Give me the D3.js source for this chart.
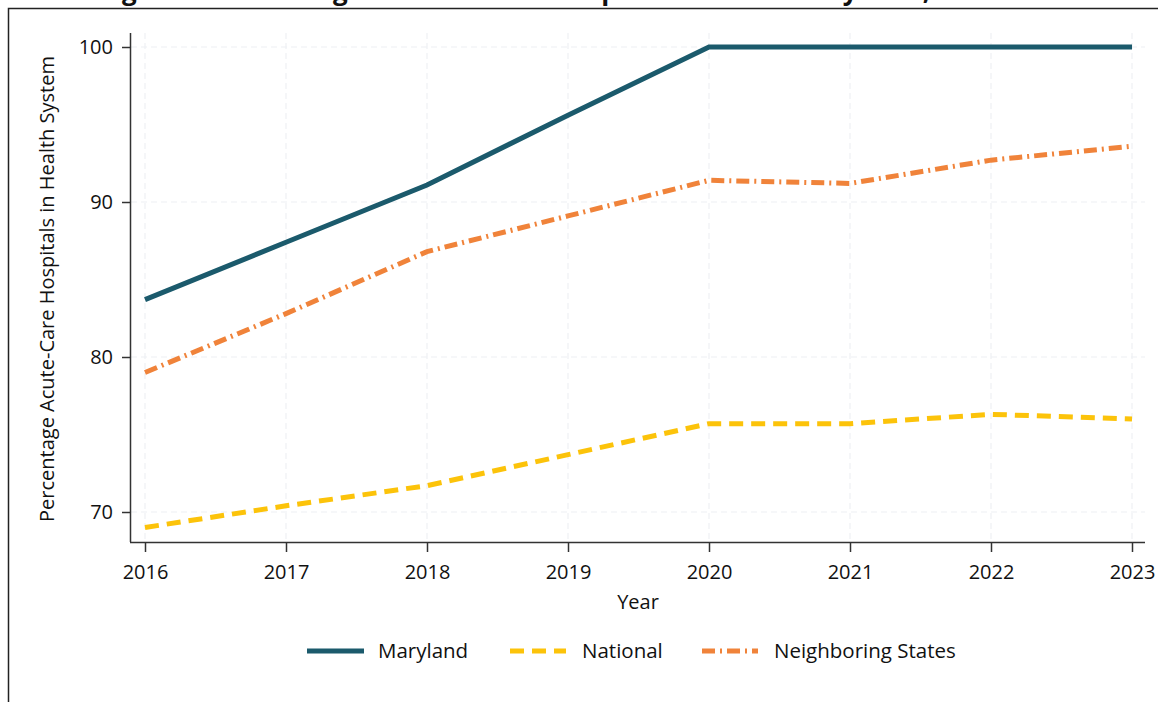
<!DOCTYPE html>
<html>
<head>
<meta charset="utf-8">
<script src="https://d3js.org/d3.v7.min.js"></script>
<style>
  body { margin: 0; background: #fff; }
  svg { display: block; font-family: "Open Sans", sans-serif; }
</style>
</head>
<body>
<svg width="1164" height="702"></svg>
<script>
// data
var years = [2016, 2017, 2018, 2019, 2020, 2021, 2022, 2023];
var maryland = [83.7, 87.4, 91.1, 95.6, 100, 100, 100, 100];
var national = [69.0, 70.4, 71.7, 73.7, 75.7, 75.7, 76.3, 76.0];
var neighboring = [79.0, 82.8, 86.8, 89.1, 91.4, 91.2, 92.7, 93.6];
var yTicks = [70, 80, 90, 100];
var seriesNames = ["Maryland", "National", "Neighboring States"];

var svg = d3.select("svg");

// title, cut off at top of the picture (as in the source)
svg.append("text")
    .attr("x", 582)
    .attr("y", 0)
    .attr("text-anchor", "middle")
    .attr("font-weight", "bold")
    .attr("font-size", 26)
    .attr("fill", "#111")
    .text("Figure 2. Percentage of Acute-Care Hospitals in a Health System, 2016-2023");

// outer frame (top + left)
svg.append("path")
    .attr("d", "M1158,8.5 H8.5 V702")
    .attr("fill", "none")
    .attr("stroke", "#222")
    .attr("stroke-width", 1.5);

var x = d3.scaleLinear().domain([2016, 2023]).range([145, 1132]);
var y = d3.scaleLinear().domain([70, 100]).range([512, 47]);

// faint grid
var grid = svg.append("g").attr("stroke", "#eef0f3").attr("stroke-width", 1.2).attr("stroke-dasharray", "6,4");
grid.selectAll("line.v").data(years).enter().append("line")
    .attr("x1", function(d) { return x(d); })
    .attr("x2", function(d) { return x(d); })
    .attr("y1", 33).attr("y2", 542);
grid.selectAll("line.h").data(yTicks).enter().append("line")
    .attr("x1", 131).attr("x2", 1145)
    .attr("y1", function(d) { return y(d); })
    .attr("y2", function(d) { return y(d); });

// axes
var xAxis = svg.append("g")
    .attr("transform", "translate(0,542)")
    .call(d3.axisBottom(x).tickValues(years).tickFormat(d3.format("d")).tickSizeOuter(0).tickSize(10).tickPadding(13));
xAxis.select(".domain").attr("d", "M130,0.5H1145");

var yAxis = svg.append("g")
    .attr("transform", "translate(130,0)")
    .call(d3.axisLeft(y).tickValues(yTicks).tickSizeOuter(0).tickSize(8).tickPadding(9));
yAxis.select(".domain").attr("d", "M0.5,33V542");

svg.selectAll(".domain").attr("stroke", "#333").attr("stroke-width", 1.5);
svg.selectAll(".tick line").attr("stroke", "#333").attr("stroke-width", 1.5);
svg.selectAll(".tick text").attr("font-size", 20).attr("fill", "#111").attr("font-family", "Open Sans, sans-serif");

// axis titles
svg.append("text")
    .attr("x", 638).attr("y", 609)
    .attr("text-anchor", "middle")
    .attr("font-size", 20).attr("fill", "#111")
    .text("Year");

svg.append("text")
    .attr("transform", "translate(54,289) rotate(-90)")
    .attr("text-anchor", "middle")
    .attr("font-size", 20).attr("fill", "#111")
    .text("Percentage Acute-Care Hospitals in Health System");

// lines
var line = d3.line()
    .x(function(d, i) { return x(years[i]); })
    .y(function(d) { return y(d); });

var styles = [
  { data: maryland, color: "#1b5a6c", dash: null },
  { data: national, color: "#fcc30a", dash: "14,8" },
  { data: neighboring, color: "#f0833a", dash: "13,5,2,5" }
];

svg.selectAll("path.series").data(styles).enter().append("path")
    .attr("class", "series")
    .attr("d", function(d) { return line(d.data); })
    .attr("fill", "none")
    .attr("stroke", function(d) { return d.color; })
    .attr("stroke-width", 5)
    .attr("stroke-dasharray", function(d) { return d.dash; });

// legend
var legendX = [307, 510, 702];
var legend = svg.selectAll("g.legend").data(styles).enter().append("g")
    .attr("class", "legend")
    .attr("transform", function(d, i) { return "translate(" + legendX[i] + ",651)"; });

legend.append("line")
    .attr("x1", 0).attr("x2", function(d, i) { return i === 0 ? 57 : 56; })
    .attr("y1", 0).attr("y2", 0)
    .attr("stroke", function(d) { return d.color; })
    .attr("stroke-width", 5)
    .attr("stroke-dasharray", function(d) { return d.dash; });

legend.append("text")
    .attr("x", function(d, i) { return i === 0 ? 71 : 72; })
    .attr("y", 0)
    .attr("dy", "0.35em")
    .attr("font-size", 20.5).attr("fill", "#111")
    .text(function(d, i) { return seriesNames[i]; });
</script>
</body>
</html>
